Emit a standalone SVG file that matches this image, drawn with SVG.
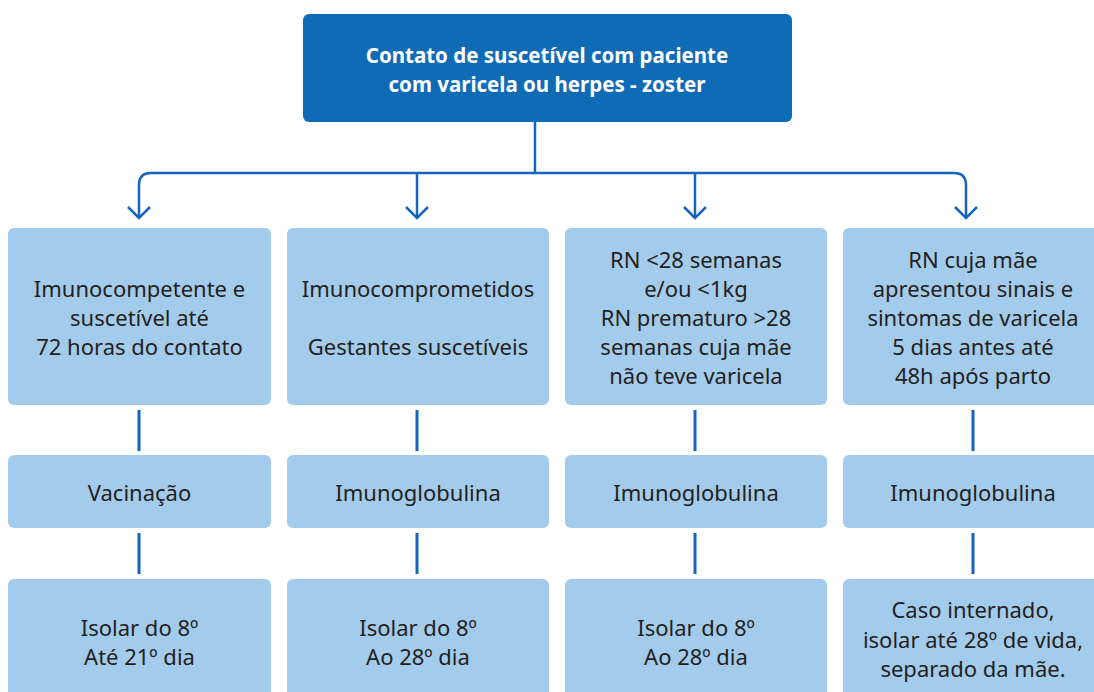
<svg xmlns="http://www.w3.org/2000/svg" width="1094" height="692" viewBox="0 0 1094 692">
<defs>
<style>
.top{fill:#0f6bb6}
.box{fill:#a3cbec}
.t{font-family:"Noto Sans","Open Sans",sans-serif;font-size:22px;fill:#231f20;text-anchor:middle}
.tb{font-family:"Noto Sans","Open Sans",sans-serif;font-size:20.5px;font-weight:bold;fill:#ffffff;text-anchor:middle}
.ln{fill:none;stroke:#1565c0;stroke-width:2.5}
.vl{fill:none;stroke:#1565c0;stroke-width:3}
</style>
</defs>
<rect width="1094" height="692" fill="#ffffff"/>
<g id="connectors">
<path class="ln" d="M535,122 V173"/>
<path class="ln" d="M139,217 V185 Q139,173 151,173 H954 Q966,173 966,185 V217"/>
<path class="ln" d="M417,173 V217 M695,173 V217"/>
<path class="ln" d="M128,207 L139,218 L150,207 M406,207 L417,218 L428,207 M684,207 L695,218 L706,207 M955,207 L966,218 L977,207"/>
<path class="vl" d="M139,410 V451 M417,410 V451 M695,410 V451 M973,410 V451"/>
<path class="vl" d="M139,533 V574 M417,533 V574 M695,533 V574 M973,533 V574"/>
</g>
<g id="root">
<rect class="top" x="303" y="14" width="489" height="108" rx="6"/>
<text class="tb" x="547" y="63">Contato de suscetível com paciente</text>
<text class="tb" x="547" y="92">com varicela ou herpes - zoster</text>
</g>
<g id="c1">
<rect class="box" x="8" y="228" width="263" height="177" rx="6"/>
<text class="t" x="139.5" y="297">Imunocompetente e</text>
<text class="t" x="139.5" y="326">suscetível até</text>
<text class="t" x="139.5" y="355">72 horas do contato</text>
</g>
<g id="c2">
<rect class="box" x="287" y="228" width="262" height="177" rx="6"/>
<text class="t" x="418" y="297">Imunocomprometidos</text>
<text class="t" x="418" y="355">Gestantes suscetíveis</text>
</g>
<g id="c3">
<rect class="box" x="565" y="228" width="262" height="177" rx="6"/>
<text class="t" x="696" y="268">RN &lt;28 semanas</text>
<text class="t" x="696" y="297">e/ou &lt;1kg</text>
<text class="t" x="696" y="326">RN prematuro &gt;28</text>
<text class="t" x="696" y="355">semanas cuja mãe</text>
<text class="t" x="696" y="384">não teve varicela</text>
</g>
<g id="c4">
<rect class="box" x="843" y="228" width="262" height="177" rx="6"/>
<text class="t" x="973" y="268">RN cuja mãe</text>
<text class="t" x="973" y="297">apresentou sinais e</text>
<text class="t" x="973" y="326">sintomas de varicela</text>
<text class="t" x="973" y="355">5 dias antes até</text>
<text class="t" x="973" y="384">48h após parto</text>
</g>
<g id="m1">
<rect class="box" x="8" y="455" width="263" height="73" rx="6"/>
<text class="t" x="139.5" y="501">Vacinação</text>
</g>
<g id="m2">
<rect class="box" x="287" y="455" width="262" height="73" rx="6"/>
<text class="t" x="418" y="501">Imunoglobulina</text>
</g>
<g id="m3">
<rect class="box" x="565" y="455" width="262" height="73" rx="6"/>
<text class="t" x="696" y="501">Imunoglobulina</text>
</g>
<g id="m4">
<rect class="box" x="843" y="455" width="262" height="73" rx="6"/>
<text class="t" x="973" y="501">Imunoglobulina</text>
</g>
<g id="b1">
<rect class="box" x="8" y="579" width="263" height="130" rx="6"/>
<text class="t" x="139.5" y="636">Isolar do 8º</text>
<text class="t" x="139.5" y="665">Até 21º dia</text>
</g>
<g id="b2">
<rect class="box" x="287" y="579" width="262" height="130" rx="6"/>
<text class="t" x="418" y="636">Isolar do 8º</text>
<text class="t" x="418" y="665">Ao 28º dia</text>
</g>
<g id="b3">
<rect class="box" x="565" y="579" width="262" height="130" rx="6"/>
<text class="t" x="696" y="636">Isolar do 8º</text>
<text class="t" x="696" y="665">Ao 28º dia</text>
</g>
<g id="b4">
<rect class="box" x="843" y="579" width="262" height="130" rx="6"/>
<text class="t" x="973" y="618">Caso internado,</text>
<text class="t" x="973" y="648">isolar até 28º de vida,</text>
<text class="t" x="973" y="677">separado da mãe.</text>
</g>
</svg>
